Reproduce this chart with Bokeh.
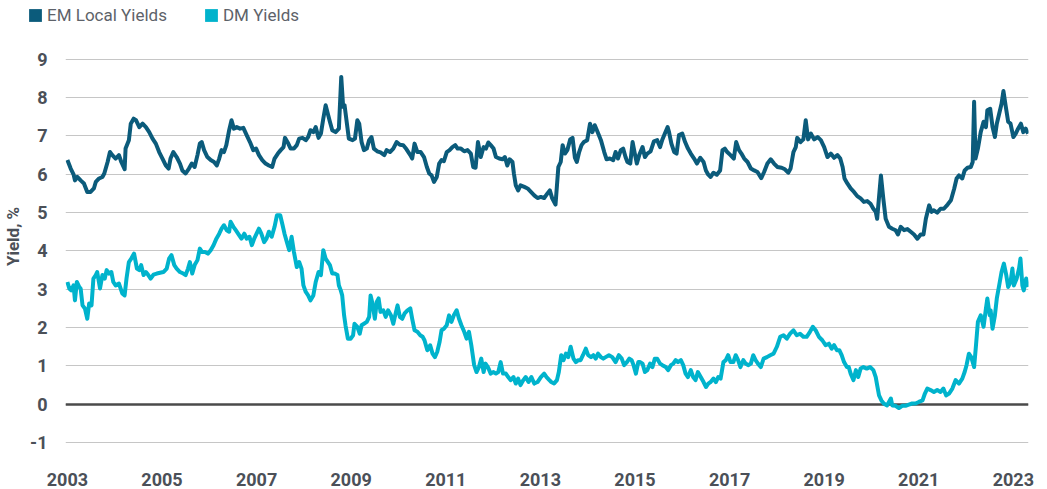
from bokeh.plotting import figure
from bokeh.models import Range1d, FixedTicker, Legend, LegendItem
from bokeh.embed import file_html
from bokeh.resources import INLINE

# ---------------- data ----------------
em_year = [
    2003.00, 2003.07, 2003.13, 2003.16, 2003.21, 2003.28, 2003.35, 2003.42, 2003.49, 2003.56,
    2003.60, 2003.67, 2003.74, 2003.78, 2003.85, 2003.90, 2003.95, 2004.02, 2004.09, 2004.14,
    2004.21, 2004.23, 2004.30, 2004.34, 2004.40, 2004.45, 2004.52, 2004.59, 2004.66, 2004.73,
    2004.80, 2004.87, 2004.94, 2005.01, 2005.08, 2005.14, 2005.18, 2005.24, 2005.31, 2005.38,
    2005.43, 2005.50, 2005.57, 2005.63, 2005.69, 2005.75, 2005.80, 2005.84, 2005.89, 2005.96,
    2006.03, 2006.10, 2006.16, 2006.21, 2006.26, 2006.31, 2006.36, 2006.42, 2006.47, 2006.52,
    2006.58, 2006.65, 2006.72, 2006.79, 2006.86, 2006.93, 2006.99, 2007.05, 2007.12, 2007.19,
    2007.26, 2007.33, 2007.38, 2007.45, 2007.51, 2007.57, 2007.60, 2007.67, 2007.72, 2007.79,
    2007.85, 2007.90, 2007.97, 2008.04, 2008.09, 2008.14, 2008.20, 2008.25, 2008.31, 2008.36,
    2008.41, 2008.46,
    2008.55, 2008.60, 2008.67, 2008.74, 2008.79, 2008.83, 2008.86, 2008.91, 2008.95, 2009.03,
    2009.08, 2009.13, 2009.17, 2009.22, 2009.27, 2009.33, 2009.38, 2009.43, 2009.48, 2009.55,
    2009.62, 2009.70, 2009.75, 2009.82, 2009.89, 2009.96, 2010.03, 2010.10, 2010.17, 2010.25,
    2010.29, 2010.34, 2010.40, 2010.47, 2010.54, 2010.60, 2010.65, 2010.70, 2010.75, 2010.81,
    2010.86, 2010.91, 2010.96, 2011.02, 2011.08, 2011.14, 2011.20, 2011.25, 2011.32, 2011.39,
    2011.46, 2011.53, 2011.58, 2011.63, 2011.68, 2011.74, 2011.80, 2011.85, 2011.90, 2011.95,
    2012.01, 2012.06, 2012.13, 2012.20, 2012.25, 2012.30, 2012.35, 2012.41, 2012.44, 2012.48,
    2012.53, 2012.58, 2012.66, 2012.73, 2012.80, 2012.87, 2012.94, 2013.01, 2013.08, 2013.15,
    2013.20, 2013.25, 2013.32, 2013.38, 2013.43, 2013.47, 2013.52, 2013.57, 2013.63, 2013.68,
    2013.73, 2013.77, 2013.82, 2013.87, 2013.92, 2013.99, 2014.05, 2014.10, 2014.15, 2014.21,
    2014.28, 2014.35, 2014.40, 2014.47, 2014.54, 2014.59, 2014.64, 2014.70, 2014.75, 2014.80,
    2014.84, 2014.90, 2014.95, 2014.99, 2015.04, 2015.09, 2015.16, 2015.21, 2015.26, 2015.33,
    2015.40, 2015.47, 2015.53, 2015.58, 2015.63, 2015.69, 2015.72, 2015.77, 2015.83, 2015.88,
    2015.93, 2016.00, 2016.06, 2016.12, 2016.18, 2016.25, 2016.31, 2016.38, 2016.45, 2016.50,
    2016.55, 2016.60, 2016.66, 2016.73, 2016.80, 2016.85, 2016.90, 2016.95, 2017.02, 2017.09,
    2017.14, 2017.20, 2017.25, 2017.31, 2017.38, 2017.45, 2017.52, 2017.59, 2017.67, 2017.73,
    2017.80, 2017.87, 2017.94, 2018.01, 2018.10, 2018.17, 2018.24, 2018.29, 2018.35, 2018.40,
    2018.43, 2018.50, 2018.56, 2018.61, 2018.66, 2018.72, 2018.79, 2018.86, 2018.93, 2019.00,
    2019.07, 2019.14, 2019.21, 2019.28, 2019.34, 2019.39, 2019.43, 2019.49, 2019.56, 2019.63,
    2019.70, 2019.77, 2019.84, 2019.91, 2019.98, 2020.04, 2020.09,
    2020.12, 2020.20, 2020.25, 2020.30, 2020.37, 2020.44, 2020.51, 2020.56, 2020.62, 2020.69,
    2020.76, 2020.83, 2020.90, 2020.97, 2021.04, 2021.10, 2021.15, 2021.22, 2021.27, 2021.32,
    2021.39, 2021.46, 2021.53, 2021.61, 2021.68, 2021.75, 2021.80, 2021.85, 2021.92, 2021.97,
    2022.03, 2022.10, 2022.14, 2022.17, 2022.20, 2022.25, 2022.31, 2022.37, 2022.42, 2022.45,
    2022.51, 2022.56, 2022.61, 2022.65, 2022.70, 2022.75, 2022.79, 2022.84, 2022.89, 2022.94,
    2023.00, 2023.05, 2023.10, 2023.16, 2023.21, 2023.26, 2023.31,
]
em_yield = [
    6.37, 6.15, 6.00, 5.84, 5.93, 5.84, 5.76, 5.54, 5.54, 5.63,
    5.80, 5.89, 5.93, 6.02, 6.32, 6.58, 6.50, 6.41, 6.50, 6.32,
    6.13, 6.67, 6.89, 7.32, 7.45, 7.41, 7.23, 7.32, 7.23, 7.10,
    6.93, 6.80, 6.58, 6.41, 6.23, 6.15, 6.41, 6.58, 6.45, 6.28,
    6.10, 6.02, 6.15, 6.28, 6.19, 6.50, 6.80, 6.84, 6.63, 6.45,
    6.37, 6.32, 6.23, 6.41, 6.63, 6.58, 6.76, 7.15, 7.41, 7.19,
    7.23, 7.19, 7.21, 7.02, 6.84, 6.63, 6.67, 6.50, 6.37, 6.28,
    6.23, 6.19, 6.41, 6.54, 6.63, 6.71, 6.95, 6.80, 6.67, 6.67,
    6.76, 6.93, 6.95, 6.89, 6.97, 7.15, 7.10, 7.23, 6.95, 7.06,
    7.45, 7.80,
    7.37, 7.15, 7.10, 7.19, 8.54, 7.76, 7.80, 7.32, 6.93, 6.89,
    6.93, 7.41, 7.32, 6.84, 6.63, 6.67, 6.89, 6.97, 6.67, 6.60,
    6.57, 6.50, 6.63, 6.58, 6.67, 6.84, 6.77, 6.76, 6.65, 6.50,
    6.41, 6.80, 6.58, 6.58, 6.45, 6.19, 6.02, 5.97, 5.80, 5.93,
    6.28, 6.37, 6.34, 6.58, 6.63, 6.71, 6.76, 6.67, 6.67, 6.60,
    6.63, 6.54, 6.19, 6.17, 6.84, 6.45, 6.71, 6.67, 6.83, 6.76,
    6.67, 6.45, 6.41, 6.39, 6.45, 6.23, 6.39, 6.32, 6.02, 5.71,
    5.58, 5.71, 5.67, 5.63, 5.54, 5.45, 5.38, 5.41, 5.38, 5.50,
    5.58, 5.37, 5.21, 6.19, 6.32, 6.76, 6.54, 6.63, 6.91, 6.95,
    6.43, 6.32, 6.58, 6.76, 6.84, 6.89, 7.32, 7.10, 7.28, 7.10,
    6.89, 6.58, 6.39, 6.41, 6.37, 6.58, 6.41, 6.63, 6.67, 6.45,
    6.32, 6.28, 6.84, 6.58, 6.28, 6.50, 6.71, 6.45, 6.54, 6.60,
    6.86, 6.89, 6.71, 6.91, 7.06, 7.23, 7.10, 6.80, 6.58, 6.54,
    7.02, 7.06, 6.84, 6.67, 6.54, 6.41, 6.28, 6.43, 6.32, 6.10,
    5.99, 5.93, 6.04, 5.99, 6.10, 6.63, 6.67, 6.58, 6.50, 6.41,
    6.84, 6.63, 6.54, 6.41, 6.32, 6.15, 6.10, 6.06, 5.90, 6.06,
    6.28, 6.39, 6.28, 6.19, 6.17, 6.13, 6.04, 6.15, 6.58, 6.71,
    6.95, 6.84, 6.91, 7.41, 6.91, 7.06, 6.91, 6.97, 6.89, 6.71,
    6.45, 6.54, 6.43, 6.50, 6.41, 6.19, 5.89, 5.76, 5.63, 5.54,
    5.43, 5.37, 5.28, 5.30, 5.23, 5.10, 5.02,
    4.84, 5.97, 5.37, 4.84, 4.63, 4.58, 4.54, 4.43, 4.63, 4.54,
    4.57, 4.50, 4.43, 4.32, 4.43, 4.43, 4.84, 5.19, 5.02, 5.06,
    5.00, 5.10, 5.10, 5.21, 5.32, 5.63, 5.89, 5.97, 5.89, 6.10,
    6.17, 6.19, 6.32, 7.89, 6.41, 6.67, 7.10, 7.37, 7.23, 7.67,
    7.71, 7.23, 6.97, 7.32, 7.58, 7.84, 8.17, 7.76, 7.37, 7.32,
    6.97, 7.06, 7.19, 7.32, 7.10, 7.19, 7.06,
]

dm_year = [
    2003.00, 2003.04, 2003.08, 2003.13, 2003.16, 2003.20, 2003.25, 2003.28, 2003.32, 2003.37,
    2003.42, 2003.46, 2003.51, 2003.55, 2003.60, 2003.63, 2003.69, 2003.74, 2003.79, 2003.83,
    2003.88, 2003.93, 2003.97, 2004.02, 2004.09, 2004.16, 2004.21, 2004.25, 2004.30, 2004.35,
    2004.41, 2004.47, 2004.52, 2004.56, 2004.61, 2004.66, 2004.71, 2004.76, 2004.82, 2004.89,
    2004.96, 2005.03, 2005.10, 2005.15, 2005.20, 2005.26, 2005.31, 2005.38, 2005.45, 2005.50,
    2005.55, 2005.59, 2005.64, 2005.69, 2005.75, 2005.80, 2005.85, 2005.91, 2005.97, 2006.03,
    2006.09, 2006.15, 2006.21, 2006.26, 2006.31, 2006.37, 2006.42, 2006.45, 2006.51, 2006.56,
    2006.63, 2006.68, 2006.74, 2006.79, 2006.85, 2006.90, 2006.95, 2007.00, 2007.05, 2007.10,
    2007.16, 2007.21, 2007.26, 2007.32, 2007.38, 2007.43, 2007.50, 2007.55, 2007.59, 2007.65,
    2007.69, 2007.74, 2007.79, 2007.85, 2007.90, 2007.95, 2007.99, 2008.04, 2008.09, 2008.14,
    2008.20, 2008.25, 2008.31, 2008.36, 2008.41, 2008.46,
    2008.55, 2008.60, 2008.65, 2008.71, 2008.74, 2008.78, 2008.81, 2008.85, 2008.88, 2008.93,
    2008.99, 2009.04, 2009.07, 2009.13, 2009.18, 2009.22, 2009.27, 2009.33, 2009.38, 2009.41,
    2009.45, 2009.50, 2009.54, 2009.58, 2009.62, 2009.68, 2009.73, 2009.78, 2009.84, 2009.89,
    2009.93, 2009.98, 2010.03, 2010.08, 2010.13, 2010.19, 2010.25, 2010.29, 2010.34, 2010.40,
    2010.46, 2010.51, 2010.55, 2010.61, 2010.67, 2010.72, 2010.77, 2010.82, 2010.87, 2010.91,
    2010.96, 2011.02, 2011.07, 2011.12, 2011.17, 2011.23, 2011.28, 2011.33, 2011.39, 2011.44,
    2011.49, 2011.54, 2011.60, 2011.65, 2011.70, 2011.75, 2011.80, 2011.84, 2011.89, 2011.95,
    2012.01, 2012.06, 2012.11, 2012.16, 2012.21, 2012.27, 2012.32, 2012.37, 2012.43, 2012.48,
    2012.53, 2012.58, 2012.64, 2012.69, 2012.75, 2012.81, 2012.87, 2012.94, 2013.01, 2013.08,
    2013.13, 2013.19, 2013.23, 2013.29, 2013.35, 2013.39, 2013.44, 2013.49, 2013.54, 2013.59,
    2013.64, 2013.70, 2013.75, 2013.80, 2013.85, 2013.90, 2013.96, 2014.01, 2014.07, 2014.12,
    2014.17, 2014.22, 2014.28, 2014.33, 2014.38, 2014.45, 2014.52, 2014.59, 2014.66, 2014.72,
    2014.77, 2014.83,
    2014.88, 2014.93, 2014.97, 2015.02, 2015.07, 2015.11, 2015.16, 2015.21, 2015.26, 2015.32,
    2015.37, 2015.42, 2015.47, 2015.53, 2015.58, 2015.65, 2015.70, 2015.76, 2015.81, 2015.86,
    2015.91, 2015.97, 2016.02, 2016.07, 2016.12, 2016.18, 2016.23, 2016.28, 2016.33, 2016.39,
    2016.45, 2016.50, 2016.55, 2016.60, 2016.66, 2016.71, 2016.76, 2016.81, 2016.87, 2016.92,
    2016.97, 2017.02, 2017.08, 2017.13, 2017.18, 2017.23, 2017.29, 2017.34, 2017.40, 2017.45,
    2017.50, 2017.55, 2017.60, 2017.66, 2017.72, 2017.79, 2017.86, 2017.93, 2018.00, 2018.07,
    2018.14, 2018.21, 2018.28, 2018.35, 2018.42, 2018.49, 2018.56, 2018.63, 2018.70, 2018.76,
    2018.82, 2018.89, 2018.96, 2019.03, 2019.10, 2019.16, 2019.21, 2019.27, 2019.32, 2019.37,
    2019.42, 2019.48, 2019.52, 2019.56, 2019.62, 2019.67, 2019.72, 2019.77, 2019.83, 2019.90,
    2019.97, 2020.04, 2020.09,
    2020.12, 2020.16, 2020.21, 2020.26, 2020.33, 2020.41, 2020.44, 2020.51, 2020.58, 2020.65,
    2020.72, 2020.79, 2020.86, 2020.93, 2021.00, 2021.08, 2021.13, 2021.18, 2021.25, 2021.32,
    2021.39, 2021.46, 2021.52, 2021.58, 2021.64, 2021.71, 2021.78, 2021.85, 2021.92, 2021.97,
    2022.01, 2022.06, 2022.11, 2022.17, 2022.21, 2022.25, 2022.31, 2022.37, 2022.42, 2022.45,
    2022.50, 2022.52, 2022.56, 2022.61, 2022.65, 2022.70, 2022.75, 2022.80, 2022.85, 2022.89,
    2022.94, 2022.98, 2023.01, 2023.07, 2023.12, 2023.15, 2023.19, 2023.22, 2023.27, 2023.31,
]
dm_yield = [
    3.19, 3.02, 2.97, 3.10, 2.71, 3.19, 3.06, 3.02, 2.58, 2.50,
    2.23, 2.63, 2.58, 3.28, 3.37, 3.45, 3.02, 3.37, 3.28, 3.50,
    3.41, 3.45, 3.19, 3.10, 3.15, 2.89, 2.84, 3.28, 3.71, 3.80,
    3.93, 3.54, 3.50, 3.63, 3.37, 3.45, 3.37, 3.28, 3.38, 3.41,
    3.43, 3.45, 3.54, 3.80, 3.89, 3.63, 3.54, 3.45, 3.41, 3.37,
    3.54, 3.71, 3.41, 3.63, 3.76, 4.06, 3.97, 3.97, 3.93, 4.02,
    4.15, 4.32, 4.45, 4.58, 4.67, 4.54, 4.50, 4.76, 4.63, 4.54,
    4.41, 4.32, 4.45, 4.32, 4.37, 4.15, 4.32, 4.45, 4.58, 4.45,
    4.23, 4.32, 4.50, 4.37, 4.63, 4.93, 4.93, 4.67, 4.45, 4.19,
    4.02, 4.37, 3.97, 3.58, 3.71, 3.54, 3.10, 2.93, 2.84, 2.71,
    2.84, 3.19, 3.45, 3.37, 4.02, 3.80,
    3.63, 3.41, 3.41, 3.37, 3.10, 2.97, 2.84, 2.32, 2.06, 1.71,
    1.71, 1.80, 2.10, 2.02, 1.84, 2.06, 2.10, 2.15, 2.28, 2.84,
    2.63, 2.23, 2.67, 2.76, 2.41, 2.45, 2.28, 2.45, 2.32, 2.10,
    2.32, 2.58, 2.28, 2.23, 2.37, 2.45, 2.50, 2.23, 1.93, 1.89,
    1.80, 1.76, 1.67, 1.41, 1.54, 1.32, 1.23, 1.37, 1.63, 1.93,
    1.97, 2.06, 2.32, 2.15, 2.32, 2.45, 2.23, 2.06, 1.89, 1.71,
    1.89, 1.54, 1.02, 0.84, 0.97, 1.19, 0.84, 1.06, 0.97, 0.80,
    0.84, 0.80, 0.84, 1.10, 0.80, 0.80, 0.71, 0.63, 0.71, 0.54,
    0.67, 0.50, 0.63, 0.71, 0.58, 0.71, 0.54, 0.58, 0.71, 0.80,
    0.71, 0.63, 0.58, 0.54, 0.63, 0.84, 1.28, 1.15, 1.32, 1.23,
    1.50, 1.19, 1.10, 1.15, 1.15, 1.28, 1.45, 1.28, 1.23, 1.28,
    1.19, 1.32, 1.23, 1.19, 1.23, 1.28, 1.23, 1.10, 1.28, 1.19,
    1.02, 1.10,
    1.19, 1.15, 1.02, 0.80, 1.10, 1.10, 1.06, 0.84, 0.89, 1.06,
    0.97, 1.19, 1.19, 1.06, 1.02, 0.97, 0.89, 1.02, 1.06, 1.15,
    1.10, 1.15, 1.02, 0.80, 0.71, 0.89, 0.71, 0.63, 0.84, 0.71,
    0.58, 0.45, 0.54, 0.58, 0.67, 0.58, 0.71, 0.67, 1.10, 1.15,
    1.28, 1.10, 1.10, 1.28, 1.15, 0.97, 1.15, 1.06, 1.02, 1.06,
    1.28, 1.15, 1.06, 0.97, 1.19, 1.23, 1.28, 1.32, 1.50, 1.76,
    1.80, 1.71, 1.84, 1.93, 1.80, 1.84, 1.76, 1.76, 1.89, 2.02,
    1.93, 1.76, 1.67, 1.54, 1.58, 1.45, 1.54, 1.41, 1.41, 1.28,
    1.10, 0.97, 0.97, 0.80, 0.63, 0.89, 0.71, 0.93, 0.97, 0.93,
    0.97, 0.89, 0.71,
    0.50, 0.23, 0.10, 0.02, -0.03, 0.15, -0.03, -0.04, -0.10, -0.04,
    -0.04, -0.01, 0.02, 0.02, 0.06, 0.10, 0.28, 0.41, 0.37, 0.32,
    0.37, 0.32, 0.41, 0.23, 0.28, 0.41, 0.63, 0.54, 0.67, 0.84,
    1.02, 1.32, 1.23, 0.97, 1.54, 2.15, 2.32, 2.02, 2.50, 2.76,
    2.32, 2.45, 1.97, 2.32, 2.76, 3.10, 3.45, 3.67, 3.37, 3.06,
    3.19, 3.54, 3.10, 3.28, 3.54, 3.80, 3.10, 2.97, 3.28, 3.06,
]

y_ticks = [-1, 0, 1, 2, 3, 4, 5, 6, 7, 8, 9]
x_ticks = [2003, 2005, 2007, 2009, 2011, 2013, 2015, 2017, 2019, 2021, 2023]
series_names = ["EM Local Yields", "DM Yields"]

# ---------------- styling ----------------
EM_COLOR = "#0b5b7b"
DM_COLOR = "#00b3cc"
TICK_COLOR = "#4b5058"
FONT = "Roboto"
TOTAL_W = 1031

# ---------------- legend strip (its own small figure) ----------------
lg = figure(
    width=TOTAL_W, height=28, x_range=Range1d(0, 1), y_range=Range1d(0, 1),
    x_axis_location=None, y_axis_location=None,
    output_backend="svg", toolbar_location=None,
    min_border_left=0, min_border_right=0, min_border_top=0, min_border_bottom=0,
)
lg.grid.visible = False
lg.outline_line_color = None
# swatch renderers: one row each, placed outside the visible range
q_em = lg.quad(left=[5], right=[6], top=[6], bottom=[5], fill_color=EM_COLOR, line_color=None)
q_dm = lg.quad(left=[5], right=[6], top=[6], bottom=[5], fill_color=DM_COLOR, line_color=None)
legend = Legend(
    items=[LegendItem(label=series_names[0], renderers=[q_em]),
           LegendItem(label=series_names[1], renderers=[q_dm])],
    location=(27, 3), orientation="horizontal",
    glyph_width=16, glyph_height=16, label_height=16, label_standoff=4,
    spacing=36, padding=0, margin=0,
    border_line_color=None, background_fill_alpha=0,
    label_text_font=FONT, label_text_font_size="17px", label_text_color="#5d6269",
)
lg.add_layout(legend)

# ---------------- main chart ----------------
p = figure(
    frame_width=963, frame_height=416,
    x_range=Range1d(2002.96, 2023.32),
    y_range=Range1d(-1.05, 9.803),
    output_backend="svg", toolbar_location=None,
    min_border_left=60, min_border_top=0, min_border_right=8, min_border_bottom=0,
)
p.outline_line_color = None
p.background_fill_color = "white"
p.border_fill_color = "white"

p.xgrid.grid_line_color = None
p.ygrid.ticker = FixedTicker(ticks=y_ticks)
p.ygrid.grid_line_color = "#c6c6c6"
p.ygrid.grid_line_width = 1.2

p.hspan(y=[0], line_color="#4a4a4a", line_width=2.6)

p.line(em_year, em_yield, line_color=EM_COLOR, line_width=4, line_join="round")
p.line(dm_year, dm_yield, line_color=DM_COLOR, line_width=4, line_join="round")

p.xaxis.ticker = FixedTicker(ticks=x_ticks)
p.yaxis.ticker = FixedTicker(ticks=y_ticks)
p.yaxis.major_label_overrides = {-1: "-1"}
for ax in (p.xaxis[0], p.yaxis[0]):
    ax.axis_line_color = None
    ax.major_tick_line_color = None
    ax.minor_tick_line_color = None
    ax.major_tick_out = 0
    ax.major_tick_in = 0
    ax.minor_tick_out = 0
    ax.minor_tick_in = 0
    ax.major_label_text_font = FONT
    ax.major_label_text_font_size = "18px"
    ax.major_label_text_font_style = "bold"
    ax.major_label_text_color = TICK_COLOR
p.xaxis.major_label_standoff = 28
p.yaxis.major_label_standoff = 18
p.yaxis.axis_label = "Yield, %"
p.yaxis.axis_label_text_font = FONT
p.yaxis.axis_label_text_font_size = "17px"
p.yaxis.axis_label_text_font_style = "bold"
p.yaxis.axis_label_text_color = TICK_COLOR
p.yaxis.axis_label_standoff = 4

open("out.html", "w").write(file_html([lg, p], INLINE))
